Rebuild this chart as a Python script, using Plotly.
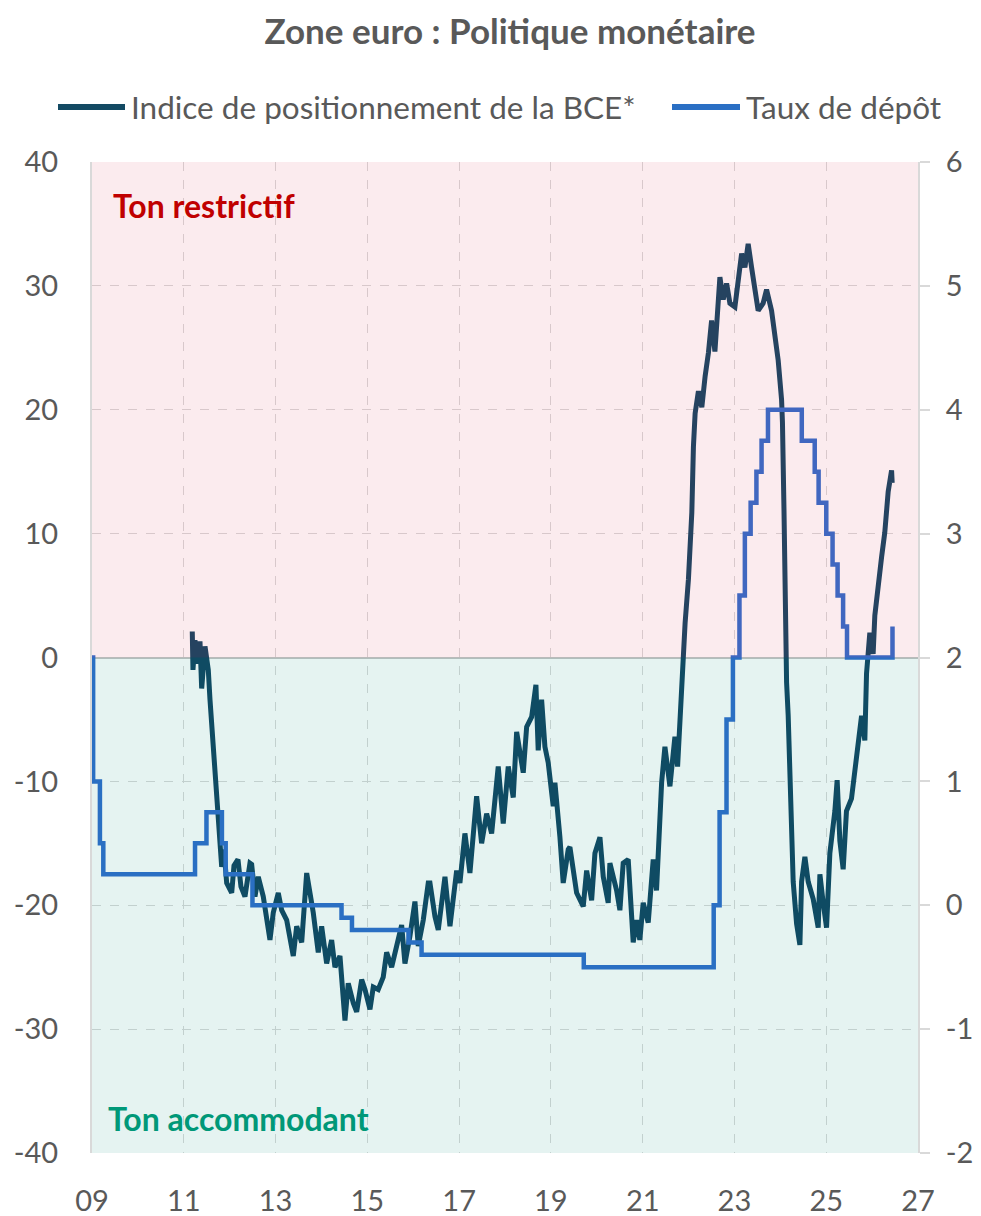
import pandas as pd
import plotly.graph_objects as go

# --- données ---
# indice de positionnement de la BCE (échelle gauche), date en années décimales
IDX_ANNEE = [
    2011.185, 2011.200, 2011.244, 2011.288, 2011.353, 2011.390, 2011.462, 2011.534,
    2011.571, 2011.643, 2011.695, 2011.730, 2011.789, 2011.826, 2011.876, 2011.935,
    2012.044, 2012.094, 2012.181, 2012.246, 2012.333, 2012.442, 2012.479, 2012.551,
    2012.623, 2012.732, 2012.878, 2012.950, 2013.059, 2013.133, 2013.242, 2013.386,
    2013.460, 2013.569, 2013.678, 2013.749, 2013.821, 2013.930, 2014.004, 2014.113,
    2014.222, 2014.294, 2014.403, 2014.512, 2014.584, 2014.693, 2014.767, 2014.876,
    2014.948, 2015.057, 2015.129, 2015.237, 2015.346, 2015.420, 2015.529, 2015.638,
    2015.747, 2015.819, 2015.928, 2016.037, 2016.109, 2016.218, 2016.327, 2016.364,
    2016.473, 2016.545, 2016.691, 2016.800, 2016.946, 2017.017, 2017.126, 2017.235,
    2017.381, 2017.490, 2017.599, 2017.708, 2017.852, 2017.961, 2018.070, 2018.179,
    2018.253, 2018.397, 2018.471, 2018.580, 2018.673, 2018.723, 2018.797, 2018.869,
    2018.941, 2019.050, 2019.087, 2019.196, 2019.268, 2019.377, 2019.414, 2019.560,
    2019.704, 2019.778, 2019.887, 2019.959, 2020.068, 2020.140, 2020.248, 2020.285,
    2020.431, 2020.503, 2020.575, 2020.684, 2020.793, 2020.865, 2020.937, 2021.011,
    2021.120, 2021.229, 2021.301, 2021.412, 2021.484, 2021.593, 2021.702, 2021.760,
    2021.815, 2021.887, 2021.924, 2021.996, 2022.070, 2022.105, 2022.142, 2022.214,
    2022.288, 2022.360, 2022.432, 2022.501, 2022.573, 2022.682, 2022.754, 2022.828,
    2022.900, 2023.009, 2023.081, 2023.155, 2023.227, 2023.298, 2023.372, 2023.444,
    2023.516, 2023.625, 2023.699, 2023.808, 2023.880, 2023.952, 2024.026, 2024.045,
    2024.078, 2024.105, 2024.135, 2024.170, 2024.244, 2024.279, 2024.353, 2024.425,
    2024.462, 2024.534, 2024.606, 2024.715, 2024.824, 2024.861, 2024.932, 2025.006,
    2025.078, 2025.187, 2025.237, 2025.296, 2025.368, 2025.440, 2025.549, 2025.658,
    2025.769, 2025.840, 2025.877, 2025.949, 2026.021, 2026.058, 2026.131, 2026.205,
    2026.275, 2026.349, 2026.423, 2026.436,
]
IDX_VAL = [
    2.1, -1.0, 1.4, -0.5, 1.3, -2.5, 0.9, -1.0,
    -3.4, -6.9, -9.9, -12.0, -14.2, -16.9, -15.5, -18.2,
    -19.0, -16.8, -16.3, -18.5, -19.3, -16.6, -16.7, -19.3,
    -17.7, -19.3, -22.8, -20.6, -19.0, -20.4, -21.2, -24.1,
    -21.7, -23.0, -17.4, -18.8, -20.6, -23.8, -21.7, -24.7,
    -22.8, -25.0, -24.1, -29.3, -26.3, -27.9, -28.6, -26.0,
    -26.8, -28.4, -26.6, -26.8, -25.8, -23.8, -25.0, -23.3,
    -21.6, -24.7, -22.5, -19.7, -23.3, -21.2, -18.2, -18.2,
    -20.9, -22.0, -17.7, -21.7, -17.2, -18.2, -14.2, -17.4,
    -11.2, -15.0, -12.6, -14.2, -8.8, -13.4, -8.8, -11.3,
    -6.0, -9.3, -5.6, -4.8, -2.2, -7.5, -3.4, -7.2,
    -8.5, -12.0, -10.1, -14.5, -18.2, -15.5, -15.3, -19.0,
    -20.1, -17.2, -19.6, -15.8, -14.5, -17.7, -19.8, -16.6,
    -18.8, -20.4, -16.6, -16.3, -23.0, -21.2, -22.8, -19.8,
    -21.4, -16.3, -18.8, -10.1, -7.2, -10.4, -6.4, -8.8,
    -4.2, 0.0, 2.8, 6.3, 11.7, 17.0, 19.7, 21.5,
    20.2, 22.7, 24.6, 27.2, 24.7, 30.7, 28.9, 30.2,
    28.6, 28.3, 30.2, 32.6, 31.5, 33.4, 31.5, 29.7,
    28.0, 28.6, 29.7, 28.0, 25.9, 24.0, 20.8, 19.0,
    12.0, 4.0, -2.0, -4.7, -12.8, -18.1, -21.5, -23.2,
    -18.1, -16.1, -18.1, -19.5, -21.8, -17.5, -19.8, -21.8,
    -15.8, -12.4, -9.9, -14.8, -17.1, -12.4, -11.4, -8.4,
    -4.7, -6.7, -1.3, 2.0, 0.3, 3.4, 5.4, 8.1,
    10.1, 13.4, 15.1, 14.1,
]

# taux de dépôt de la BCE (échelle droite), paliers
TAUX_DATE = [
    "2009-01-01", "2009-01-10", "2009-03-05", "2009-04-01", "2011-04-01", "2011-07-01",
    "2011-11-01", "2011-12-01", "2012-07-01", "2014-06-10", "2014-09-01", "2015-11-25",
    "2016-03-08", "2019-09-20", "2022-07-20", "2022-09-05", "2022-10-30", "2022-12-20",
    "2023-02-10", "2023-03-25", "2023-05-10", "2023-06-25", "2023-08-05", "2023-09-25",
    "2024-06-20", "2024-10-01", "2024-11-01", "2025-01-01", "2025-02-20", "2025-04-01",
    "2025-05-15", "2025-06-15", "2026-06-12",
]
TAUX_VAL = [
    2.0, 1.0, 0.5, 0.25, 0.5, 0.75,
    0.5, 0.25, 0.0, -0.1, -0.2, -0.3,
    -0.4, -0.5, 0.0, 0.75, 1.5, 2.0,
    2.5, 3.0, 3.25, 3.5, 3.75, 4.0,
    3.75, 3.5, 3.25, 3.0, 2.75, 2.5,
    2.25, 2.0, 2.25,
]

TICKS_X = ["09", "11", "13", "15", "17", "19", "21", "23", "25", "27"]
TICKS_G = [-40, -30, -20, -10, 0, 10, 20, 30, 40]
TICKS_D = [-2, -1, 0, 1, 2, 3, 4, 5, 6]

FONT = "Lato, 'Open Sans', sans-serif"
GRIS = "#595959"
C_INDICE = "#114561"
C_TAUX = "#2f6ccc"

# géométrie en pixels (le body est mis à marge 0, cf. post_script)
W, H = 981, 1216
X_G, X_D, Y_H, Y_B = 92, 918, 162, 1153   # bords de la zone de tracé
L, T, R, B = X_G, Y_H, W - X_D, H - Y_B


def annee_en_date(a):
    return pd.Timestamp("2009-01-01") + pd.to_timedelta((a - 2009) * 365.25, unit="D")


def px_x(px):
    return (px - X_G) / (X_D - X_G)


def px_y(py):
    return (Y_B - py) / (Y_B - Y_H)


idx_dates = [annee_en_date(a) for a in IDX_ANNEE]
taux_dates = pd.to_datetime(TAUX_DATE)

fig = go.Figure()
fig.add_trace(go.Scatter(x=idx_dates, y=IDX_VAL, mode="lines",
                         line=dict(color=C_INDICE, width=5), showlegend=False))
fig.add_trace(go.Scatter(x=taux_dates, y=TAUX_VAL, mode="lines", yaxis="y2",
                         line=dict(color=C_TAUX, width=4.5, shape="hv"), showlegend=False))

# zones restrictif / accommodant (par-dessus, translucides)
fig.add_shape(type="rect", xref="paper", yref="y", x0=0, x1=1, y0=0, y1=40,
              fillcolor="rgba(220,60,90,0.1)", line_width=0, layer="above")
fig.add_shape(type="rect", xref="paper", yref="y", x0=0, x1=1, y0=-40, y1=0,
              fillcolor="rgba(0,140,120,0.1)", line_width=0, layer="above")

# légende manuelle
for x0, x1, coul in [(58, 125, "#134a63"), (672, 740, "#2a6fc4")]:
    fig.add_shape(type="line", xref="paper", yref="paper",
                  x0=px_x(x0), x1=px_x(x1), y0=px_y(107), y1=px_y(107),
                  line=dict(color=coul, width=6))
for x, txt in [(129, "Indice de positionnement de la BCE*"), (744, "Taux de dépôt")]:
    fig.add_annotation(xref="paper", yref="paper", x=px_x(x), y=px_y(107),
                       text=txt, showarrow=False, xanchor="left", yanchor="middle",
                       font=dict(family=FONT, size=31.5, color=GRIS))

fig.add_annotation(xref="paper", yref="paper", x=px_x(111), y=px_y(205),
                   text="<b>Ton restrictif</b>", showarrow=False, xanchor="left",
                   yanchor="middle", font=dict(family=FONT, size=32, color="#c00000"))
fig.add_annotation(xref="paper", yref="paper", x=px_x(106), y=px_y(1118),
                   text="<b>Ton accommodant</b>", showarrow=False, xanchor="left",
                   yanchor="middle", font=dict(family=FONT, size=32, color="#009878"))

fig.update_layout(
    width=W, height=H,
    margin=dict(l=L, r=R, t=T, b=B, autoexpand=False),
    paper_bgcolor="white", plot_bgcolor="white",
    font=dict(family=FONT, size=29, color=GRIS),
    title=dict(text="<b>Zone euro : Politique monétaire</b>", x=510 / W,
               xanchor="center", y=1 - 32 / H, yanchor="middle",
               font=dict(family=FONT, size=35, color=GRIS)),
    xaxis=dict(type="date", range=["2009-01-01", "2027-01-01"],
               tickvals=pd.date_range("2009-01-01", "2027-01-01", freq="2YS"),
               ticktext=TICKS_X, ticks="", ticklabelstandoff=28, automargin=False,
               showgrid=True, gridcolor="#d9d9d9", griddash="dash", gridwidth=1,
               showline=False, zeroline=False),
    yaxis=dict(range=[-40, 40], tickvals=TICKS_G, ticktext=[str(v) for v in TICKS_G],
               showgrid=True, gridcolor="#d9d9d9", automargin=False,
               griddash="dash", gridwidth=1, zeroline=True, zerolinecolor="#c4c4c4",
               zerolinewidth=2, showline=True, linecolor="#d9d9d9", linewidth=2,
               ticks="", ticklabelstandoff=26),
    yaxis2=dict(range=[-2, 6], tickvals=TICKS_D, ticktext=[str(v) for v in TICKS_D],
                overlaying="y", side="right", showgrid=False, automargin=False,
                zeroline=False, showline=True, linecolor="#d9d9d9", linewidth=2,
                ticks="outside", ticklen=10, tickcolor="#d9d9d9", tickwidth=2,
                ticklabelstandoff=10),
)

fig.write_html("out.html", config={"displayModeBar": False},
               post_script="document.body.style.margin='0';"
                           "document.body.style.overflow='hidden';")
